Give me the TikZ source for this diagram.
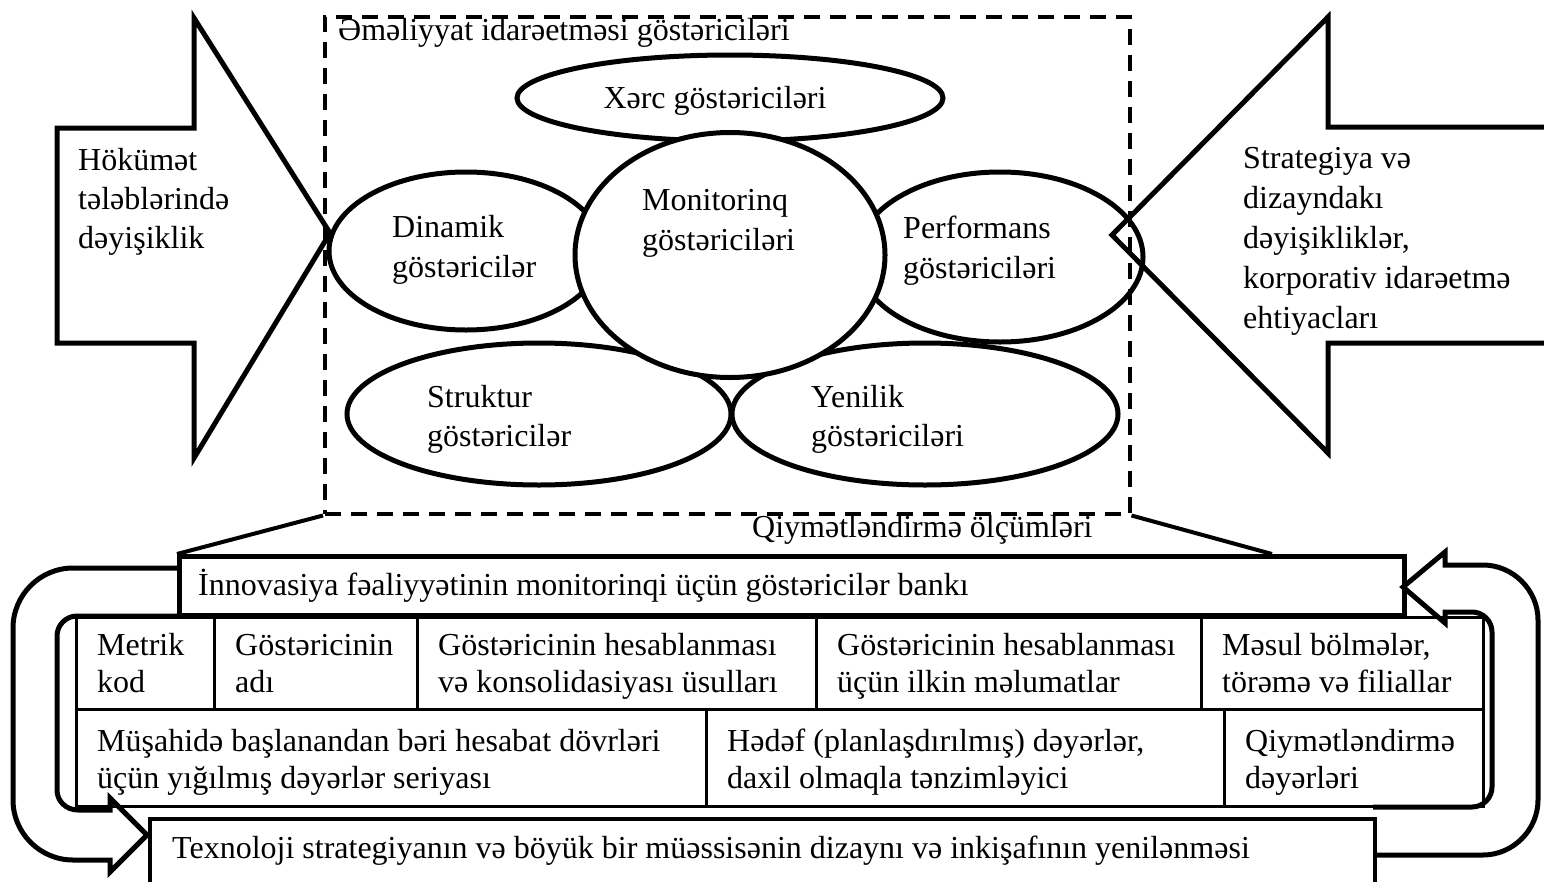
\documentclass[tikz,border=0pt]{standalone}
\usepackage{fontspec}
\setmainfont{Liberation Serif}
\usetikzlibrary{shapes.geometric}
\begin{document}
\begin{tikzpicture}[x=1pt,y=-1pt,
  ell/.style={ellipse, draw, line width=5pt, fill=white, inner sep=0pt},
  dbox/.style={draw, line width=3.5pt, dash pattern=on 16pt off 10pt, inner sep=0pt},
  bigarrow/.style={draw, line width=5pt},
  uarrow/.style={draw, line width=5pt},
  lbl/.style={font=\fontsize{32}{40}\selectfont, inner sep=0pt, align=left, anchor=base west},
  lbls/.style={font=\fontsize{32}{39}\selectfont, inner sep=0pt, align=left, anchor=base west},
  tlbl/.style={font=\fontsize{32}{36.5}\selectfont, inner sep=0pt, align=left, anchor=base west},
  cellbox/.style={draw, line width=3pt, inner sep=0pt, anchor=north west},
  bankbox/.style={draw, line width=4.5pt, inner sep=0pt, anchor=north west}
]
\useasboundingbox (0,0) rectangle (1544,881);
\clip (0,0) rectangle (1544,881);

% ellipses
\node[ell, minimum width=426, minimum height=86] (xerc) at (730,98) {};
\node[ell, minimum width=274, minimum height=158] (dinamik) at (466,251) {};
\node[ell, minimum width=286, minimum height=170] (perf) at (1000,257) {};
\node[ell, minimum width=384, minimum height=142] (struk) at (539,414) {};
\node[ell, minimum width=386, minimum height=142] (yeni) at (925,414) {};
\node[ell, minimum width=310, minimum height=245] (monit) at (730,255) {};

% dashed frame
\node[dbox, minimum width=805, minimum height=497, anchor=north west] (opbox) at (323,15) {};

% big side arrows
\draw[bigarrow] (57,128) -- (194,128) -- (194,18) -- (330,233) -- (194,458) -- (194,343) -- (57,343) -- cycle;
\draw[bigarrow] (1560,127) -- (1328,127) -- (1328,17) -- (1112,235) -- (1328,453) -- (1328,343) -- (1560,343);

% texts top part (anchor = baseline of last line)
\node[lbls] (tgov) at (78,248) {Hökümət\\tələblərində\\dəyişiklik};
\node[lbl] (tstr) at (1243,328) {Strategiya və\\dizayndakı\\dəyişikliklər,\\korporativ idarəetmə\\ehtiyacları};
\node[lbl] (top) at (338,40) {Əməliyyat idarəetməsi göstəriciləri};
\node[lbl, anchor=base] (txerc) at (715,108) {Xərc göstəriciləri};
\node[lbl] (tdin) at (392,277) {Dinamik\\göstəricilər};
\node[lbl] (tmon) at (642,250) {Monitorinq\\göstəriciləri};
\node[lbl] (tperf) at (903,278) {Performans\\göstəriciləri};
\node[lbls] (tstruk) at (427,446) {Struktur\\göstəricilər};
\node[lbls] (tyeni) at (811,446) {Yenilik\\göstəriciləri};

% bank box and trapezoid
\node[bankbox, minimum width=1225, minimum height=59] (bank) at (177,554) {};
\coordinate (trR) at (1272,554);
\draw[line width=4pt] (opbox.south west) -- (bank.north west);
\draw[line width=4pt] (opbox.south east) -- (trR);
\node[lbl] (tqiy) at (752,537) {Qiymətləndirmə ölçümləri};
\node[lbl] (tbank) at (198,595) {İnnovasiya fəaliyyətinin monitorinqi üçün göstəricilər bankı};

% table
\node[cellbox, minimum width=138, minimum height=92] (c11) at (75,616) {};
\node[cellbox, minimum width=203, minimum height=92] (c12) at (213,616) {};
\node[cellbox, minimum width=399, minimum height=92] (c13) at (416,616) {};
\node[cellbox, minimum width=385, minimum height=92] (c14) at (815,616) {};
\node[cellbox, minimum width=282, minimum height=92] (c15) at (1200,616) {};
\node[cellbox, minimum width=630, minimum height=97] (c21) at (75,708) {};
\node[cellbox, minimum width=518, minimum height=97] (c22) at (705,708) {};
\node[cellbox, minimum width=259, minimum height=97] (c23) at (1223,708) {};

\node[tlbl] (t11) at (97,692) {Metrik\\kod};
\node[tlbl] (t12) at (235,692) {Göstəricinin\\adı};
\node[tlbl] (t13) at (438,692) {Göstəricinin hesablanması\\və konsolidasiyası üsulları};
\node[tlbl] (t14) at (837,692) {Göstəricinin hesablanması\\üçün ilkin məlumatlar};
\node[tlbl] (t15) at (1222,692) {Məsul bölmələr,\\törəmə və filiallar};
\node[tlbl] (t21) at (97,788) {Müşahidə başlanandan bəri hesabat dövrləri\\üçün yığılmış dəyərlər seriyası};
\node[tlbl] (t22) at (727,788) {Hədəf (planlaşdırılmış) dəyərlər,\\daxil olmaqla tənzimləyici};
\node[tlbl] (t23) at (1245,788) {Qiymətləndirmə\\dəyərləri};

% technology box
\node[draw, line width=3.5pt, inner sep=0pt, anchor=north west, minimum width=1225, minimum height=100] (tech) at (148,817) {};
\node[lbl] (ttech) at (172,858) {Texnoloji strategiyanın və böyük bir müəssisənin dizaynı və inkişafının yenilənməsi};

% U-turn arrows
\draw[uarrow] (177,568) -- (73,568) .. controls (40,568) and (13,595) .. (13,628)
  -- (13,800) .. controls (13,833) and (40,860) .. (73,860)
  -- (110,860) -- (110,872) -- (147,835) -- (110,798) -- (110,810)
  -- (78,810) .. controls (66,810) and (57,801) .. (57,790)
  -- (57,636) .. controls (57,625) and (66,616) .. (77,616) -- (177,616);
\draw[uarrow] (1373,855) -- (1483,855) .. controls (1513,855) and (1538,830) .. (1538,800)
  -- (1538,620) .. controls (1538,590) and (1513,565) .. (1483,565)
  -- (1445,565) -- (1445,552) -- (1403,587) -- (1445,623) -- (1445,612)
  -- (1472,612) .. controls (1483,612) and (1492,621) .. (1492,632)
  -- (1492,787) .. controls (1492,798) and (1483,807) .. (1472,807) -- (1373,807);
\end{tikzpicture}
\end{document}
